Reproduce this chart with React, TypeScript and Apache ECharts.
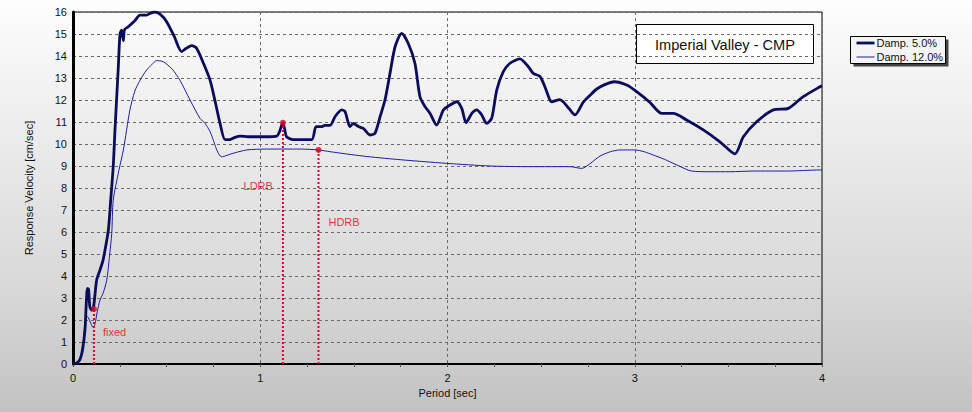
import React, { useEffect, useRef } from "react";
import * as echarts from "echarts";

const FONT = "'Liberation Sans', Arial, sans-serif";

const period5 = [0, 0.02, 0.037, 0.05, 0.064, 0.07, 0.077, 0.083, 0.09, 0.1, 0.11, 0.126, 0.144, 0.16, 0.171, 0.189, 0.2, 0.215, 0.224, 0.242, 0.251, 0.26, 0.265, 0.269, 0.275, 0.295, 0.33, 0.358, 0.393, 0.415, 0.438, 0.465, 0.5, 0.54, 0.58, 0.605, 0.634, 0.66, 0.7, 0.732, 0.76, 0.785, 0.812, 0.838, 0.865, 0.892, 0.936, 0.98, 1.03, 1.088, 1.105, 1.12, 1.13, 1.14, 1.177, 1.275, 1.298, 1.328, 1.345, 1.373, 1.4, 1.435, 1.453, 1.479, 1.497, 1.524, 1.55, 1.586, 1.613, 1.64, 1.666, 1.693, 1.72, 1.755, 1.79, 1.826, 1.853, 1.88, 1.907, 1.942, 1.978, 2.013, 2.049, 2.076, 2.099, 2.13, 2.156, 2.183, 2.209, 2.236, 2.263, 2.298, 2.334, 2.387, 2.432, 2.458, 2.494, 2.52, 2.547, 2.556, 2.6, 2.618, 2.65, 2.681, 2.725, 2.76, 2.797, 2.84, 2.89, 2.957, 3.01, 3.08, 3.144, 3.206, 3.277, 3.366, 3.455, 3.535, 3.58, 3.651, 3.74, 3.82, 3.9, 3.989, 4.0];
const vel5 = [0, 0.05, 0.2, 0.6, 1.55, 2.6, 3.44, 3.4, 2.6, 2.45, 2.6, 3.8, 4.27, 4.7, 5.18, 6.1, 7.3, 9.0, 10.6, 13.5, 15.0, 15.18, 14.9, 14.7, 15.2, 15.33, 15.6, 15.86, 15.86, 15.95, 16.0, 15.9, 15.56, 14.9, 14.2, 14.35, 14.47, 14.35, 13.6, 12.9, 11.9, 10.95, 10.2, 10.2, 10.3, 10.36, 10.33, 10.33, 10.33, 10.36, 10.6, 10.97, 10.7, 10.33, 10.2, 10.2, 10.79, 10.79, 10.85, 10.85, 11.25, 11.55, 11.47, 10.79, 10.94, 10.79, 10.71, 10.41, 10.49, 11.24, 12.0, 13.21, 14.42, 15.03, 14.58, 13.67, 12.15, 11.7, 11.39, 10.86, 11.55, 11.77, 11.92, 11.62, 10.97, 11.39, 11.55, 11.32, 10.94, 11.17, 12.45, 13.29, 13.67, 13.87, 13.51, 13.21, 13.07, 12.6, 12.0, 11.92, 12.02, 11.92, 11.6, 11.32, 11.9, 12.2, 12.5, 12.7, 12.83, 12.68, 12.38, 11.9, 11.39, 11.39, 11.09, 10.64, 10.1, 9.55, 10.33, 11.01, 11.55, 11.62, 12.15, 12.6, 12.64];

const period12 = [0, 0.02, 0.04, 0.055, 0.064, 0.072, 0.082, 0.095, 0.108, 0.117, 0.13, 0.144, 0.16, 0.18, 0.195, 0.207, 0.215, 0.245, 0.269, 0.304, 0.33, 0.358, 0.393, 0.42, 0.447, 0.482, 0.53, 0.571, 0.625, 0.678, 0.705, 0.732, 0.794, 0.856, 0.928, 1.034, 1.212, 1.31, 1.373, 1.55, 1.729, 1.996, 2.227, 2.44, 2.654, 2.717, 2.76, 2.814, 2.87, 2.921, 3.001, 3.05, 3.099, 3.16, 3.224, 3.304, 3.402, 3.509, 3.633, 3.811, 3.989, 4.0];
const vel12 = [0, 0.05, 0.3, 1.0, 1.9, 2.2, 2.1, 1.85, 1.65, 1.8, 2.4, 2.9, 3.2, 3.8, 4.9, 5.94, 7.45, 8.8, 9.73, 11.55, 12.4, 12.9, 13.36, 13.6, 13.79, 13.74, 13.4, 12.9, 12.0, 11.17, 10.94, 10.56, 9.42, 9.58, 9.73, 9.77, 9.77, 9.73, 9.65, 9.45, 9.3, 9.12, 9.0, 8.97, 8.97, 8.89, 9.1, 9.45, 9.65, 9.73, 9.73, 9.65, 9.5, 9.3, 9.05, 8.77, 8.74, 8.74, 8.77, 8.77, 8.82, 8.82];

const markerNames = ["fixed", "LDRB", "HDRB"];
const markerPeriod = [0.112, 1.121, 1.311];
const markerVel = [2.5, 10.97, 9.73];

const seriesNames = ["Damp. 5.0%", "Damp. 12.0%"];
const xTicks = [0, 1, 2, 3, 4];
const chartTitle = "Imperial Valley - CMP";

const labelStyle: Record<string, any> = {
  fixed: { align: "left", offset: [9, 23] },
  LDRB: { align: "right", offset: [-10, 63] },
  HDRB: { align: "left", offset: [10, 72] },
};

export default function App() {
  const ref = useRef<HTMLDivElement>(null);
  useEffect(() => {
    if (!ref.current) return;
    const chart = echarts.init(ref.current, undefined, { renderer: "svg" });
    const zip = (xs: number[], ys: number[]) => xs.map((x, i) => [x, ys[i]]);
    const markerLines = markerNames.map((n, i) => ({
      type: "line",
      name: n + " line",
      data: [
        [markerPeriod[i], 0],
        [markerPeriod[i], markerVel[i]],
      ],
      symbol: "none",
      silent: true,
      lineStyle: { color: "#e8001c", width: 2, type: [2, 2] },
      z: 3,
    }));
    const option: any = {
      animation: false,
      backgroundColor: "transparent",
      textStyle: { fontFamily: FONT },
      grid: {
        left: 73,
        right: 150,
        top: 12,
        bottom: 48,
        show: true,
        borderColor: "#000",
        borderWidth: 1,
        backgroundColor: "transparent",
      },
      xAxis: {
        type: "value",
        min: 0,
        max: 4,
        interval: 1,
        name: "Period [sec]",
        nameLocation: "middle",
        nameGap: 23,
        nameTextStyle: { fontSize: 11, color: "#111", fontFamily: FONT },
        axisLine: { lineStyle: { color: "#000", width: 2 } },
        axisTick: { show: true, length: 3, lineStyle: { color: "#555" } },
        minorTick: { show: true, splitNumber: 4, length: 3, lineStyle: { color: "#555" } },
        axisLabel: {
          fontSize: 11,
          color: "#111",
          margin: 8,
          fontFamily: FONT,
          formatter: (v: number) => (xTicks.includes(v) ? String(v) : ""),
        },
        splitLine: { show: true, lineStyle: { color: "#6a6a6a", type: [3, 3], width: 1 } },
      },
      yAxis: {
        type: "value",
        min: 0,
        max: 16,
        interval: 1,
        name: "Response Velocity [cm/sec]",
        nameLocation: "middle",
        nameGap: 39,
        nameTextStyle: { fontSize: 11, color: "#111", fontFamily: FONT },
        axisLine: { show: true, lineStyle: { color: "#000", width: 3 } },
        axisTick: { show: false },
        axisLabel: { fontSize: 11, color: "#111", margin: 6, fontFamily: FONT },
        splitLine: { show: true, lineStyle: { color: "#6a6a6a", type: [3, 3], width: 1 } },
      },
      series: [
        {
          type: "line",
          name: seriesNames[1],
          data: zip(period12, vel12),
          symbol: "none",
          smooth: 0.25,
          lineStyle: { color: "#1c1ca6", width: 1 },
          z: 2,
        },
        {
          type: "line",
          name: seriesNames[0],
          data: zip(period5, vel5),
          symbol: "none",
          smooth: 0.25,
          lineStyle: { color: "#0c0c5c", width: 2.8 },
          z: 2,
        },
        ...markerLines,
        {
          type: "scatter",
          name: "markers",
          data: markerNames.map((n, i) => ({
            value: [markerPeriod[i], markerVel[i]],
            name: n,
            label: {
              show: true,
              position: "inside",
              formatter: n,
              color: "#e8001c",
              fontSize: 11,
              fontFamily: FONT,
              align: labelStyle[n].align,
              verticalAlign: "middle",
              offset: labelStyle[n].offset,
            },
          })),
          symbol: "circle",
          symbolSize: 6,
          itemStyle: { color: "#e8001c" },
          z: 5,
        },
      ],
      graphic: [
        {
          type: "group",
          left: 636,
          top: 24,
          children: [
            {
              type: "rect",
              shape: { x: 0, y: 0, width: 177, height: 39 },
              style: { fill: "#ffffff", stroke: "#000", lineWidth: 1 },
            },
            {
              type: "text",
              x: 88.5,
              y: 20,
              style: {
                text: chartTitle,
                fill: "#111",
                fontSize: 14.6,
                fontFamily: FONT,
                align: "center",
                verticalAlign: "middle",
              },
            },
          ],
        },
        {
          type: "group",
          left: 850,
          top: 36,
          children: [
            {
              type: "rect",
              shape: { x: 3, y: 3, width: 95, height: 27 },
              style: { fill: "#444" },
            },
            {
              type: "rect",
              shape: { x: 0, y: 0, width: 95, height: 27 },
              style: { fill: "#f4f4f4", stroke: "#000", lineWidth: 1 },
            },
            {
              type: "line",
              shape: { x1: 6, y1: 6.5, x2: 24, y2: 6.5 },
              style: { stroke: "#0c0c5c", lineWidth: 2.8 },
            },
            {
              type: "text",
              x: 26,
              y: 6.5,
              style: { text: seriesNames[0], fill: "#111", fontSize: 11, fontFamily: FONT, verticalAlign: "middle" },
            },
            {
              type: "line",
              shape: { x1: 6, y1: 20.5, x2: 24, y2: 20.5 },
              style: { stroke: "#1c1ca6", lineWidth: 1 },
            },
            {
              type: "text",
              x: 26,
              y: 20.5,
              style: { text: seriesNames[1], fill: "#111", fontSize: 11, fontFamily: FONT, verticalAlign: "middle" },
            },
          ],
        },
      ],
    };
    chart.setOption(option);
    return () => chart.dispose();
  }, []);
  return (
    <div
      style={{
        position: "absolute",
        left: 0,
        top: 0,
        width: 972,
        height: 412,
        background: "linear-gradient(#fdfdfd, #d8d8d8 70%, #c2c2c2)",
      }}
    >
      <div ref={ref} style={{ width: 972, height: 412 }} />
    </div>
  );
}
